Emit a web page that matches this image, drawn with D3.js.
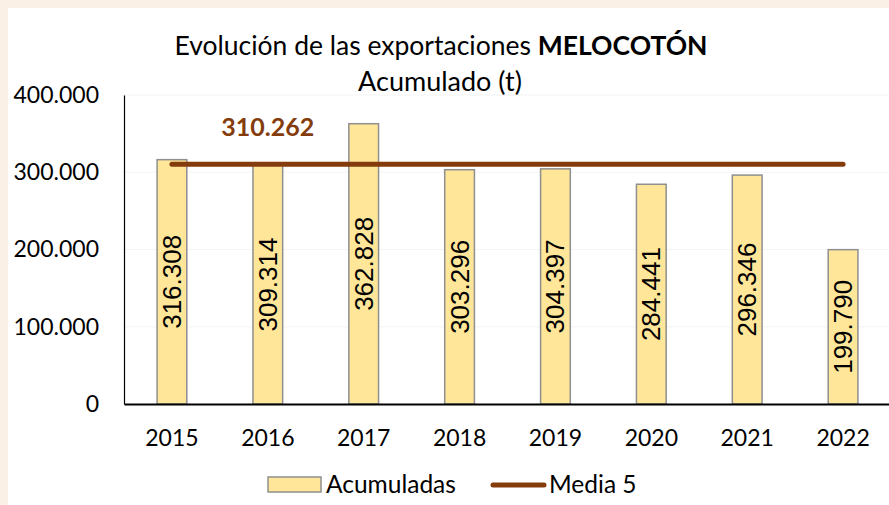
<!DOCTYPE html>
<html>
<head>
<meta charset="utf-8">
<script src="https://cdn.jsdelivr.net/npm/d3@7"></script>
<style>
  body { margin: 0; }
  svg { display: block; }
</style>
</head>
<body>
<svg id="chart" width="889" height="505"></svg>
<script>
const years = ['2015', '2016', '2017', '2018', '2019', '2020', '2021', '2022'];
const acumuladas = [316308, 309314, 362828, 303296, 304397, 284441, 296346, 199790];
const media5 = [310262, 310262, 310262, 310262, 310262, 310262, 310262, 310262];
const yTicks = [0, 100000, 200000, 300000, 400000];

const locale = d3.formatLocale({ decimal: ',', thousands: '.', grouping: [3], currency: ['', ' €'] });
const fmt = locale.format(',d');

const svg = d3.select('#chart');
const W = 889, H = 505;
const plot = { left: 124, right: 891, top: 95, bottom: 404 };
const tickFont = 'Lato, "Open Sans", sans-serif';

svg.append('rect').attr('width', W).attr('height', H).attr('fill', '#fbf0e6');
svg.append('rect').attr('x', 8).attr('y', 8).attr('width', W - 8).attr('height', H - 8).attr('fill', '#fff');

const x = d3.scaleBand()
  .domain(years)
  .range([plot.left, plot.right])
  .paddingInner(0.69)
  .paddingOuter(0.345);

const y = d3.scaleLinear()
  .domain([0, 400000])
  .range([plot.bottom, plot.top]);

// faint gridlines
svg.append('g')
  .selectAll('line')
  .data(yTicks.slice(1))
  .enter()
  .append('line')
  .attr('x1', plot.left)
  .attr('x2', W)
  .attr('y1', d => y(d))
  .attr('y2', d => y(d))
  .attr('stroke', '#f3f3f3')
  .attr('stroke-width', 1);

// bars
svg.selectAll('rect.bar')
  .data(acumuladas)
  .enter()
  .append('rect')
  .attr('class', 'bar')
  .attr('x', (d, i) => x(years[i]))
  .attr('y', d => y(d))
  .attr('width', x.bandwidth())
  .attr('height', d => y(0) - y(d))
  .attr('fill', '#ffe699')
  .attr('stroke', '#8f8f8f')
  .attr('stroke-width', 1.5);

// bar labels
svg.selectAll('text.barlabel')
  .data(acumuladas)
  .enter()
  .append('text')
  .attr('class', 'barlabel')
  .attr('transform', (d, i) => {
    const cx = x(years[i]) + x.bandwidth() / 2;
    const cy = (y(d) + y(0)) / 2;
    return `translate(${cx},${cy}) rotate(-90)`;
  })
  .attr('text-anchor', 'middle')
  .attr('dominant-baseline', 'central')
  .style('font-family', '"Liberation Sans", Arial, sans-serif')
  .style('font-size', '26px')
  .attr('fill', '#000')
  .text(d => fmt(d));

// y axis
const yAxis = svg.append('g')
  .attr('transform', `translate(${plot.left},0)`)
  .call(d3.axisLeft(y).tickValues(yTicks).tickFormat(fmt).tickSize(0).tickPadding(25));
yAxis.select('.domain').attr('stroke', '#000').attr('stroke-width', 1.2);
yAxis.selectAll('text').style('font-family', tickFont).style('font-size', '23px').attr('fill', '#000');

// x axis
const xAxis = svg.append('g')
  .attr('transform', `translate(0,${plot.bottom})`)
  .call(d3.axisBottom(x).tickSize(0).tickPadding(26));
xAxis.select('.domain').attr('stroke', '#000').attr('stroke-width', 1.8);
xAxis.selectAll('text').style('font-family', tickFont).style('font-size', '23px').attr('fill', '#000');

// media line
const line = d3.line()
  .x((d, i) => x(years[i]) + x.bandwidth() / 2)
  .y(d => y(d));

svg.append('path')
  .datum(media5)
  .attr('d', line)
  .attr('fill', 'none')
  .attr('stroke', '#843c0c')
  .attr('stroke-width', 5)
  .attr('stroke-linecap', 'round');

svg.append('text')
  .attr('x', x(years[1]) + x.bandwidth() / 2)
  .attr('y', y(media5[1]) - 28)
  .attr('text-anchor', 'middle')
  .style('font-family', tickFont)
  .style('font-size', '25px')
  .style('font-weight', 'bold')
  .attr('fill', '#843c0c')
  .text(fmt(media5[1]));

// title
const title = svg.append('text')
  .attr('x', 441)
  .attr('y', 55)
  .attr('text-anchor', 'middle')
  .style('font-family', tickFont)
  .style('font-size', '26.5px')
  .attr('fill', '#000');
title.append('tspan').text('Evolución de las exportaciones ');
title.append('tspan').style('font-weight', 'bold').text('MELOCOTÓN');

svg.append('text')
  .attr('x', 440)
  .attr('y', 91)
  .attr('text-anchor', 'middle')
  .style('font-family', tickFont)
  .style('font-size', '27px')
  .attr('fill', '#000')
  .text('Acumulado (t)');

// legend
const legend = svg.append('g').style('font-family', tickFont).style('font-size', '24.5px');
legend.append('rect')
  .attr('x', 268).attr('y', 477).attr('width', 53).attr('height', 15)
  .attr('fill', '#ffe699').attr('stroke', '#8f8f8f').attr('stroke-width', 1.5);
legend.append('text').attr('x', 326).attr('y', 493).text('Acumuladas');
legend.append('line')
  .attr('x1', 493).attr('x2', 544).attr('y1', 485).attr('y2', 485)
  .attr('stroke', '#843c0c').attr('stroke-width', 5).attr('stroke-linecap', 'round');
legend.append('text').attr('x', 549).attr('y', 493).text('Media 5');
</script>
</body>
</html>
